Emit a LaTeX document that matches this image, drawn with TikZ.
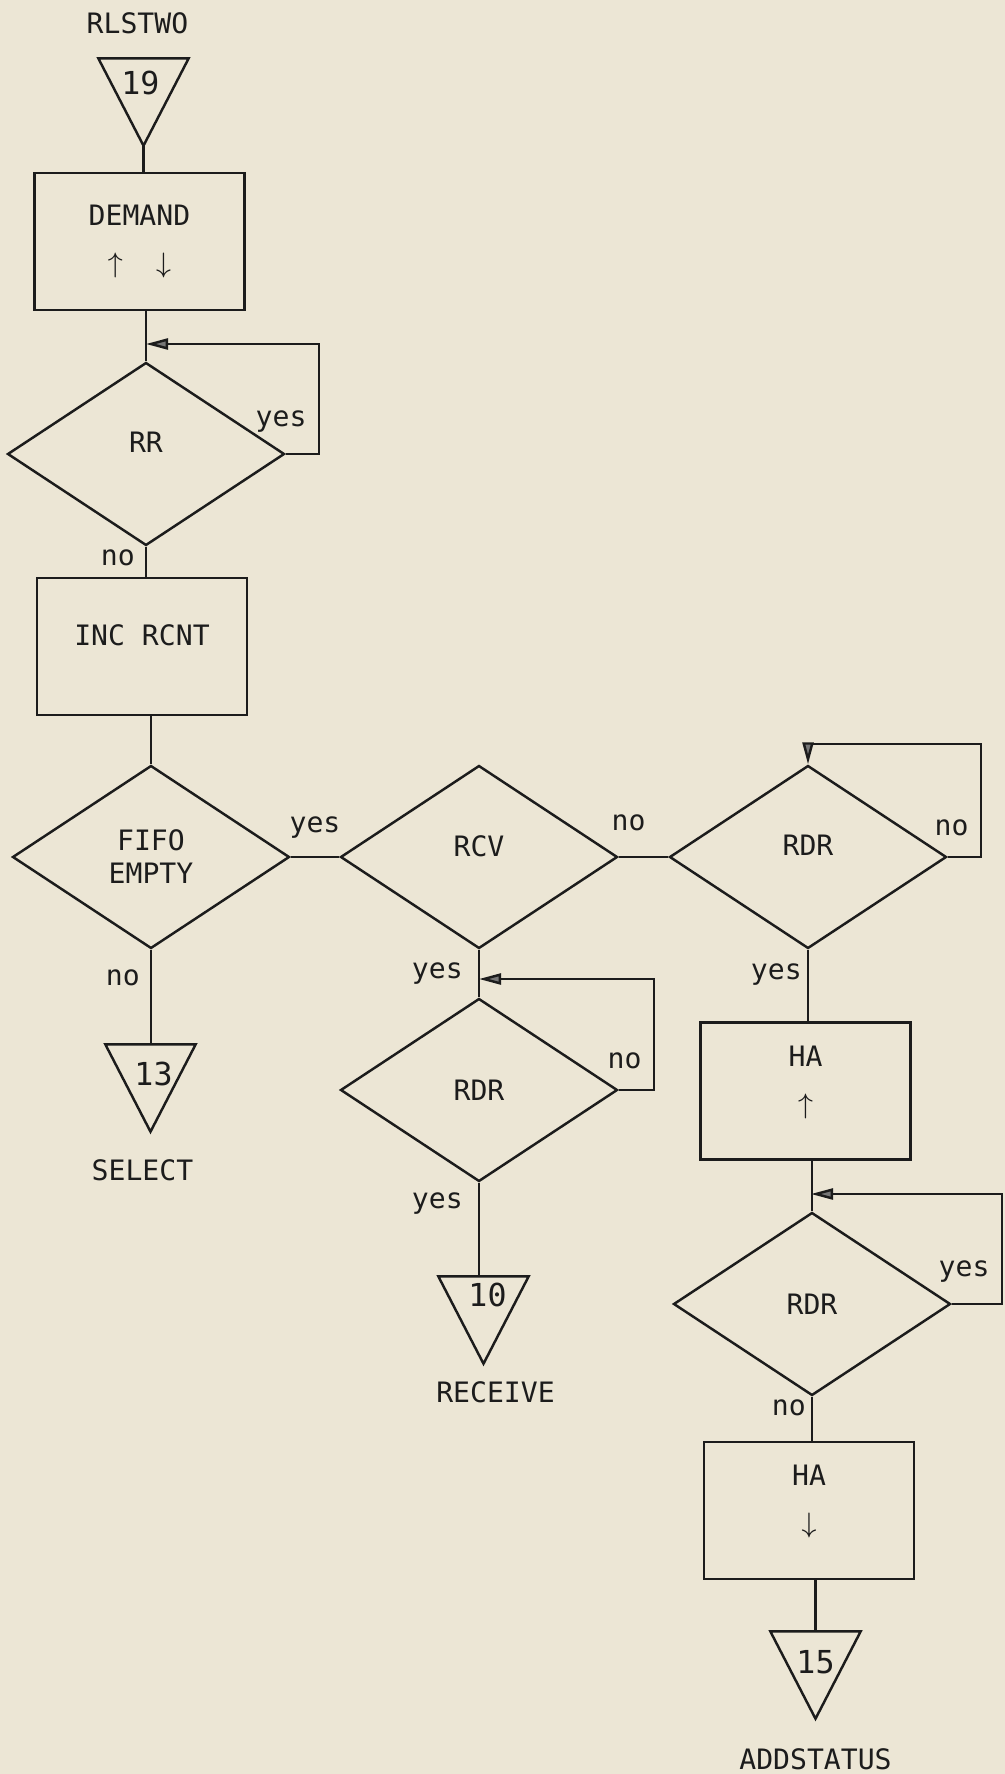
\documentclass[tikz,border=0pt]{standalone}
\usepackage{fontspec}
\usepackage{tikz}
\usetikzlibrary{arrows.meta,positioning,shapes.geometric}
\newfontfamily\flowfont{DejaVu Sans Mono}
\definecolor{paper}{HTML}{ECE6D5}
\definecolor{ink}{HTML}{1C1C1C}

\begin{document}
\begin{tikzpicture}[
  x=0.1mm,
  y=-0.1mm,
  every node/.style={font=\flowfont\fontsize{8pt}{9.4pt}\selectfont, text=ink, inner sep=0pt},
  wire/.style={draw=ink, line width=0.7pt},
  box/.style={wire, rectangle, align=center, minimum width=21mm, minimum height=13.7mm, font=\flowfont\fontsize{8pt}{13.4pt}\selectfont},
  raised/.style={text depth=6.5pt},
  decision/.style={wire, diamond, align=center, minimum width=27.7mm, minimum height=18.3mm},
  offpage/.style={minimum width=8.9mm, minimum height=8.6mm},
  num/.style={font=\flowfont\fontsize{9pt}{10pt}\selectfont},
  lab/.style={inner sep=0.5mm},
  looplab/.style={above left, inner xsep=1.1mm, inner ysep=2mm},
  flow/.style={wire, -{Triangle[length=2.2mm, width=1.1mm, fill=ink!60]}}
]
\fill[paper] (0,0) rectangle (1005,1774);
\useasboundingbox (0,0) rectangle (1005,1774);

% left column
\node[offpage] (t19) at (143.5,102) {};
\node[num, below=1.2mm of t19.north, xshift=-0.3mm] (n19) {19};
\node[above=2.4mm of t19, xshift=-0.6mm] (rlstwo) {RLSTWO};
\node[box] (demand) at (139.5,241.5) {DEMAND\\$\uparrow$\hspace{9.5pt}$\downarrow$};
\coordinate (rrin) at (146,344);
\node[decision, raised] (rr) at (146,454) {RR};
\node[box, raised] (inc) at (142,646.5) {INC RCNT};
\node[decision] (fifo) at (151,857) {FIFO\\EMPTY};
\node[offpage] (t13) at (150.5,1088) {};
\node[num, below=1.7mm of t13.north, xshift=0.3mm] (n13) {13};
\node[below=2.7mm of t13, xshift=-0.8mm] (select) {SELECT};

% middle column
\node[decision, raised] (rcv) at (479,857) {RCV};
\coordinate (rdrbin) at (479,979);
\node[decision] (rdrb) at (479,1090) {RDR};
\node[offpage] (t10) at (483.5,1320) {};
\node[num, below=0.6mm of t10.north, xshift=0.4mm] (n10) {10};
\node[below=1.7mm of t10, xshift=1.2mm] (receive) {RECEIVE};

% right column
\coordinate (rdrain) at (808,744);
\node[decision, raised] (rdra) at (808,857) {RDR};
\node[box, raised] (ha1) at (805.5,1091) {HA\\$\uparrow$};
\coordinate (rdrcin) at (811,1194);
\node[decision] (rdrc) at (812,1304) {RDR};
\node[box, raised] (ha2) at (809,1510.5) {HA\\$\downarrow$};
\node[offpage] (t15) at (815.5,1675) {};
\node[num, below=1.8mm of t15.north] (n15) {15};
\node[below=2.9mm of t15] (addstatus) {ADDSTATUS};

\foreach \t in {t19,t13,t10,t15}
  \draw[wire, line join=miter] (\t.north west) -- (\t.north east) -- (\t.south) -- cycle;

\draw[wire] (t19.south) -- (t19.south |- demand.north);
\draw[wire] (rr.north |- demand.south) -- (rr.north);
\draw[flow] (rr.east) -- ++(33,0) node[looplab] (rryes) {yes} |- (rrin);
\draw[wire] (rr.south) -- node[lab, left=0.5mm, pos=0.375] (rrno) {no} (rr.south |- inc.north);
\draw[wire] (fifo.north |- inc.south) -- (fifo.north);
\draw[wire] (fifo.east) -- node[lab, above=1.2mm] (fifoyes) {yes} (rcv.west);
\draw[wire] (fifo.south) -- node[lab, left=0.5mm, pos=0.3] (fifono) {no} (fifo.south |- t13.north);

\draw[wire] (rcv.east) -- node[lab, above=2mm, pos=0.2] (rcvno) {no} (rdra.west);
\draw[wire] (rcv.south) -- node[lab, left=1mm] (rcvyes) {yes} (rdrb.north);
\draw[flow] (rdrb.east) -- ++(35,0) node[looplab] (rdrbno) {no} |- (rdrbin);
\draw[wire] (rdrb.south) -- node[lab, left=1mm, pos=0.22] (rdrbyes) {yes} (rdrb.south |- t10.north);

\draw[flow] (rdra.east) -- ++(33,0) node[looplab] (rdrano) {no} |- (rdrain) -- (rdra.north);
\draw[wire] (rdra.south) -- node[lab, left, pos=0.35] (rdrayes) {yes} (rdra.south |- ha1.north);
\draw[wire] (rdrc.north |- ha1.south) -- (rdrc.north);
\draw[flow] (rdrc.east) -- ++(50,0) node[looplab] (rdrcyes) {yes} |- (rdrcin);
\draw[wire] (rdrc.south) -- node[lab, left, pos=0.26] (rdrcno) {no} (rdrc.south |- ha2.north);
\draw[wire] (t15.north |- ha2.south) -- (t15.north);
\end{tikzpicture}
\end{document}
